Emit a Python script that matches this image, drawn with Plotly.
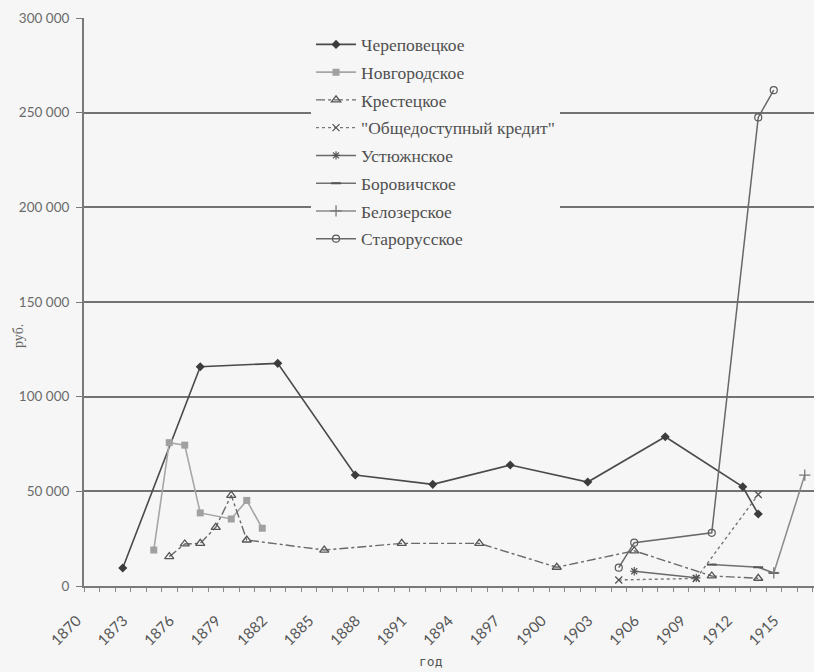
import plotly.graph_objects as go

# ---- data ----
cherep_years = [1872, 1877, 1882, 1887, 1892, 1897, 1902, 1907, 1912, 1913]
cherep_vals = [9500, 115800, 117600, 58600, 53700, 63900, 54900, 78800, 52400, 38000]

novg_years = [1874, 1875, 1876, 1877, 1879, 1880, 1881]
novg_vals = [19000, 75700, 74400, 38600, 35400, 45200, 30500]

krest_years = [1875, 1876, 1877, 1878, 1879, 1880, 1885, 1890, 1895, 1900, 1905, 1910, 1913]
krest_vals = [15500, 22200, 22500, 31000, 47900, 24300, 19000, 22500, 22500, 9900, 18600, 5300, 4100]

obsch_years = [1904, 1909, 1913]
obsch_vals = [3200, 4000, 48300]

ustyu_years = [1905, 1909]
ustyu_vals = [7800, 4300]

borov_years = [1910, 1913, 1914]
borov_vals = [11300, 9900, 6900]

beloz_years = [1914, 1916]
beloz_vals = [6900, 58600]

staror_years = [1904, 1905, 1910, 1913, 1914]
staror_vals = [9700, 22900, 28100, 247500, 261900]

tick_years = list(range(1870, 1916, 3))
y_ticks = [0, 50000, 100000, 150000, 200000, 250000, 300000]

series = [
    ("Череповецкое", cherep_years, cherep_vals, dict(color="#4a4a4a", width=1.6, dash="solid"),
     dict(symbol="diamond", size=7, color="#3c3c3c")),
    ("Новгородское", novg_years, novg_vals, dict(color="#a6a6a6", width=1.6, dash="solid"),
     dict(symbol="square", size=7, color="#a0a0a0")),
    ("Крестецкое", krest_years, krest_vals, dict(color="#6a6a6a", width=1.4, dash="dashdot"),
     dict(symbol="triangle-up-open", size=8, color="#555555", line=dict(width=1.3))),
    ("\"Общедоступный кредит\"", obsch_years, obsch_vals, dict(color="#777777", width=1.4, dash="dot"),
     dict(symbol="x-thin-open", size=7, color="#555555", line=dict(width=1.3))),
    ("Устюжнское", ustyu_years, ustyu_vals, dict(color="#6a6a6a", width=1.5, dash="solid"),
     dict(symbol="asterisk-open", size=7, color="#555555", line=dict(width=1.2))),
    ("Боровичское", borov_years, borov_vals, dict(color="#707070", width=1.5, dash="solid"),
     dict(symbol="line-ew-open", size=7, color="#555555", line=dict(width=2))),
    ("Белозерское", beloz_years, beloz_vals, dict(color="#8a8a8a", width=1.5, dash="solid"),
     dict(symbol="cross-thin-open", size=8, color="#777777", line=dict(width=1.3))),
    ("Старорусское", staror_years, staror_vals, dict(color="#686868", width=1.5, dash="solid"),
     dict(symbol="circle-open", size=7, color="#5a5a5a", line=dict(width=1.2))),
]

fig = go.Figure()
for i, (name, xs, ys, ln, mk) in enumerate(series):
    fig.add_trace(go.Scatter(
        x=xs, y=ys, name=name, mode="lines+markers",
        line=ln, marker=mk, legendgroup=f"g{i}", cliponaxis=True,
    ))

SERIF = "'Liberation Serif', 'Times New Roman', 'DejaVu Serif', serif"
BG = "#f6f6f6"
fig.update_layout(
    width=814, height=672,
    margin=dict(l=84, r=0, t=18, b=86, autoexpand=False),
    paper_bgcolor=BG, plot_bgcolor=BG,
    separators=", ",
    showlegend=True,
    legend=dict(
        x=0.311, y=0.985, xanchor="left", yanchor="top",
        bgcolor=BG, borderwidth=0,
        font=dict(family=SERIF, size=17.5, color="#505050"),
        traceorder="grouped", tracegroupgap=2,
        itemwidth=40,
    ),
    xaxis=dict(
        range=[1869.5, 1869.5 + 730 / 15.5],
        automargin=False,
        tickmode="array", tickvals=tick_years, ticktext=[str(t) for t in tick_years],
        tickangle=-45, ticks="", showgrid=False, zeroline=False,
        tickfont=dict(family="Lato", size=15, color="#555555"),
        showline=True, linecolor="#7a7a7a", linewidth=2,
        minor=dict(ticks="outside", tick0=1869.5, dtick=1, ticklen=4, tickcolor="#8a8a8a", showgrid=False),
        ticklabelstandoff=18, ticklabelshift=-15,
    ),
    yaxis=dict(
        range=[0, 300000],
        automargin=False,
        tickmode="array", tickvals=y_ticks, tickformat=",d",
        ticks="outside", ticklen=6, tickcolor="#7a7a7a",
        showgrid=True, gridcolor="#737373", gridwidth=1.7,
        zeroline=False,
        showline=True, linecolor="#7a7a7a", linewidth=2,
        tickfont=dict(family="Lato", size=13.5, color="#6a6a6a"),
        ticklabelstandoff=4,
    ),
    annotations=[
        dict(text="руб.", xref="paper", yref="paper", x=(18 - 84) / 730, y=(586 - 336) / 568,
             textangle=-90, showarrow=False, xanchor="center", yanchor="middle",
             font=dict(family=SERIF, size=14, color="#666666")),
        dict(text="год", xref="paper", yref="paper", x=(431 - 84) / 730, y=-(661 - 586) / 568,
             showarrow=False, xanchor="center", yanchor="middle",
             font=dict(family="DejaVu Sans Mono", size=13, color="#555555")),
    ],
)

fig.write_html(
    "out.html",
    config={"displayModeBar": False},
    post_script="document.body.style.margin='0';document.body.style.overflow='hidden';",
)
